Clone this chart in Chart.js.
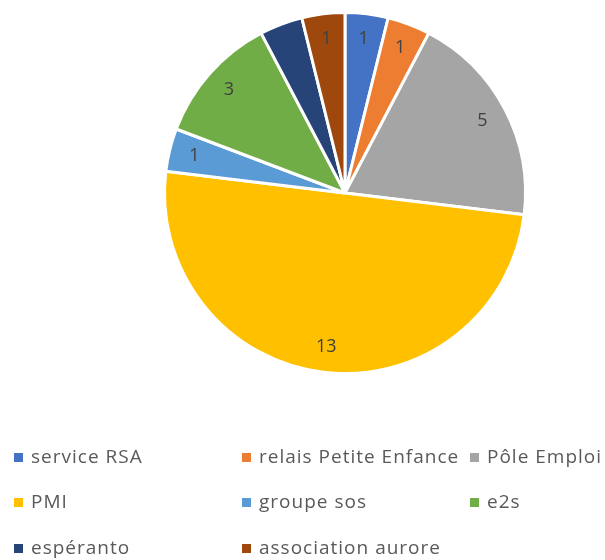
<!DOCTYPE html>
<html>
<head>
<meta charset="utf-8">
<script src="https://cdn.jsdelivr.net/npm/chart.js@4.4.0/dist/chart.umd.min.js"></script>
<style>
  body { margin: 0; background: #fff; }
  #wrap { position: relative; width: 605px; height: 560px; }
  #legend { position: absolute; left: 0; top: 0; width: 605px; font-family: "Open Sans", Lato, sans-serif; font-size: 19px; letter-spacing: 1px; color: #595959; }
  .item { position: absolute; white-space: nowrap; line-height: 24px; }
  .box { position: absolute; width: 9px; height: 9px; top: 8px; }
  .txt { position: absolute; top: -1px; }
</style>
</head>
<body>
<div id="wrap">
  <canvas id="chart" width="605" height="560"></canvas>
  <div id="legend"></div>
</div>
<script>
const categories = ['service RSA', 'relais Petite Enfance', 'Pôle Emploi', 'PMI', 'groupe sos', 'e2s', 'espéranto', 'association aurore'];
const counts = [1, 1, 5, 13, 1, 3, 1, 1];
const showLabel = [true, true, true, true, true, true, false, true];
const colors = ['#4472C4', '#ED7D31', '#A5A5A5', '#FFC000', '#5B9BD5', '#70AD47', '#264478', '#9E480E'];

const sliceLabels = {
  id: 'sliceLabels',
  afterDatasetsDraw(chart) {
    const ctx = chart.ctx;
    const meta = chart.getDatasetMeta(0);
    ctx.save();
    ctx.font = '18px "Open Sans", Lato, sans-serif';
    ctx.fillStyle = '#404040';
    ctx.textAlign = 'center';
    ctx.textBaseline = 'middle';
    meta.data.forEach((arc, i) => {
      if (!showLabel[i]) return;
      const mid = (arc.startAngle + arc.endAngle) / 2;
      const r = arc.outerRadius * 0.86;
      ctx.fillText(String(counts[i]), arc.x + Math.cos(mid) * r, arc.y + Math.sin(mid) * r);
    });
    ctx.restore();
  }
};

const chart = new Chart(document.getElementById('chart').getContext('2d'), {
  type: 'pie',
  data: {
    labels: categories,
    datasets: [{
      data: counts,
      backgroundColor: colors,
      borderColor: '#ffffff',
      borderWidth: 3
    }]
  },
  options: {
    responsive: false,
    animation: false,
    layout: { padding: { top: 11, bottom: 185, left: 163, right: 78 } },
    plugins: {
      legend: { display: false },
      tooltip: { enabled: false }
    }
  },
  plugins: [sliceLabels]
});

// legend laid out in three columns like the original
const colX = [14, 242, 470];
const rowY = [445, 490, 536];
const legendEl = document.getElementById('legend');
const items = Chart.overrides.pie.plugins.legend.labels.generateLabels(chart);
items.forEach((it, i) => {
  const d = document.createElement('div');
  d.className = 'item';
  d.style.left = colX[i % 3] + 'px';
  d.style.top = rowY[Math.floor(i / 3)] + 'px';
  const b = document.createElement('span');
  b.className = 'box';
  b.style.background = it.fillStyle;
  const t = document.createElement('span');
  t.className = 'txt';
  t.style.left = '17px';
  t.textContent = it.text;
  d.appendChild(b);
  d.appendChild(t);
  legendEl.appendChild(d);
});
</script>
</body>
</html>
